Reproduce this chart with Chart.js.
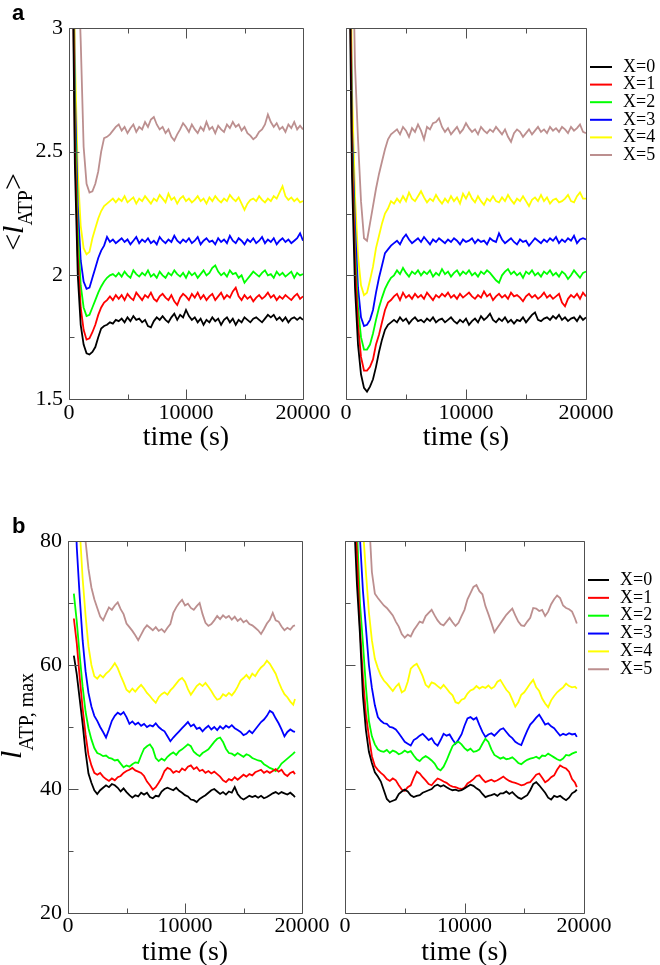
<!doctype html>
<html>

<head>
	<title>ATP length vs time</title>
	<script src="https://cdn.jsdelivr.net/npm/chart.js@4.4.0/dist/chart.umd.min.js"></script>
	<style>
		body { margin: 0; background: #fff; }
		#page { position: relative; width: 660px; height: 965px; }
		.panel { position: absolute; }
		canvas { display: block; }
	</style>
</head>

<body>
	<div id="page">
		<div class="panel" style="left:0;top:0"><canvas id="cTL" width="330" height="482"></canvas></div>
		<div class="panel" style="left:330px;top:0"><canvas id="cTR" width="330" height="482"></canvas></div>
		<div class="panel" style="left:0;top:482px"><canvas id="cBL" width="330" height="483"></canvas></div>
		<div class="panel" style="left:330px;top:482px"><canvas id="cBR" width="330" height="483"></canvas></div>
	</div>
	<script>
		var seriesNames = ['X=0', 'X=1', 'X=2', 'X=3', 'X=4', 'X=5'];
		var seriesColors = ['#000000', '#ff0000', '#00ff00', '#0000ff', '#ffff00', '#bc8f8f'];

		var xTitle = 'time (s)';
		var xTicks = [0, 10000, 20000];
		var xMinor = [5000, 15000];
		var yTicksA = [1.5, 2, 2.5, 3];
		var yMinorA = [1.75, 2.25, 2.75];
		var yTicksB = [20, 40, 60, 80];
		var yMinorB = [30, 50, 70];

		// time grid (s) for panel a
		var timeTop = [0, 250, 500, 750, 1000, 1250, 1500, 1750, 2000, 2250, 2500, 2750, 3000, 3250, 3500, 3750, 4000,
			4250, 4500, 4750, 5000, 5250, 5500, 5750, 6000,
			6250, 6500, 6750, 7000, 7250, 7500, 7750, 8000,
			8250, 8500, 8750, 9000, 9250, 9500, 9750, 10000,
			10250, 10500, 10750, 11000, 11250, 11500, 11750, 12000,
			12250, 12500, 12750, 13000, 13250, 13500, 13750, 14000,
			14250, 14500, 14750, 15000, 15250, 15500, 15750, 16000,
			16250, 16500, 16750, 17000, 17250, 17500, 17750, 18000,
			18250, 18500, 18750, 19000, 19250, 19500, 19750, 20000];

		// time grid (s) for panel b
		var timeBottom = [500, 750, 1000, 1250, 1500, 1750, 2000, 2250,
			2500, 2750, 3000, 3250, 3500, 3750, 4000, 4250,
			4500, 4750, 5000, 5250, 5500, 5750, 6000, 6250,
			6500, 6750, 7000, 7250, 7500, 7750, 8000, 8250,
			8500, 8750, 9000, 9250, 9500, 9750, 10000, 10250,
			10500, 10750, 11000, 11250, 11500, 11750, 12000, 12250,
			12500, 12750, 13000, 13250, 13500, 13750, 14000, 14250,
			14500, 14750, 15000, 15250, 15500, 15750, 16000, 16250,
			16500, 16750, 17000, 17250, 17500, 17750, 18000, 18250,
			18500, 18750, 19000, 19250, 19400];

		// panel a, left: <l_ATP>
		var aLeftX0 = [6, 3.5, 2.45, 2.0, 1.80, 1.72, 1.685, 1.68, 1.69, 1.71, 1.75, 1.785, 1.795, 1.80, 1.81, 1.805, 1.82,
			1.815, 1.825, 1.81, 1.83, 1.815, 1.835, 1.82, 1.825,
			1.81, 1.82, 1.795, 1.79, 1.815, 1.83, 1.82, 1.835,
			1.82, 1.81, 1.83, 1.845, 1.82, 1.84, 1.83, 1.86,
			1.835, 1.82, 1.83, 1.81, 1.825, 1.80, 1.82, 1.81,
			1.83, 1.815, 1.825, 1.80, 1.82, 1.83, 1.81, 1.825,
			1.80, 1.82, 1.81, 1.83, 1.82, 1.81, 1.825, 1.83,
			1.82, 1.81, 1.825, 1.84, 1.83, 1.84, 1.82, 1.83,
			1.815, 1.83, 1.81, 1.825, 1.83, 1.82, 1.83, 1.82];
		var aLeftX1 = [6, 3.6, 2.55, 2.08, 1.87, 1.78, 1.74, 1.745, 1.77, 1.80, 1.84, 1.87, 1.89, 1.90, 1.915, 1.90, 1.92,
			1.905, 1.92, 1.90, 1.925, 1.91, 1.90, 1.93, 1.915,
			1.90, 1.92, 1.91, 1.93, 1.905, 1.895, 1.915, 1.925,
			1.91, 1.90, 1.92, 1.895, 1.88, 1.91, 1.925, 1.915,
			1.90, 1.925, 1.91, 1.93, 1.905, 1.92, 1.90, 1.915,
			1.925, 1.90, 1.915, 1.93, 1.905, 1.92, 1.91, 1.935,
			1.95, 1.915, 1.90, 1.92, 1.905, 1.915, 1.895, 1.91,
			1.92, 1.905, 1.915, 1.93, 1.91, 1.92, 1.90, 1.915,
			1.905, 1.92, 1.91, 1.90, 1.915, 1.925, 1.905, 1.915];
		var aLeftX2 = [6, 3.7, 2.65, 2.18, 1.96, 1.87, 1.835, 1.84, 1.87, 1.90, 1.93, 1.955, 1.975, 1.99, 2.0, 2.005, 1.995,
			2.01, 1.995, 2.015, 2.0, 1.99, 2.02, 2.005, 1.995,
			2.01, 2.0, 2.02, 1.995, 2.005, 1.99, 2.015, 2.0,
			1.99, 2.01, 2.0, 2.02, 2.005, 1.995, 2.01, 1.99,
			2.015, 2.0, 2.01, 1.99, 2.005, 2.02, 2.0, 2.01,
			2.03, 2.04, 2.015, 2.0, 2.01, 1.995, 2.02, 2.005,
			2.01, 1.99, 2.0, 1.97, 1.985, 2.0, 2.015, 2.005,
			1.995, 2.01, 2.02, 2.0, 2.005, 1.99, 2.015, 2.0,
			2.01, 1.995, 2.005, 2.015, 1.99, 2.01, 2.0, 2.005];
		var aLeftX3 = [6, 3.8, 2.75, 2.28, 2.06, 1.975, 1.945, 1.95, 1.99, 2.03, 2.07, 2.10, 2.12, 2.155, 2.135, 2.145, 2.13,
			2.14, 2.15, 2.135, 2.145, 2.125, 2.14, 2.155, 2.13,
			2.145, 2.135, 2.15, 2.13, 2.14, 2.125, 2.155, 2.14,
			2.13, 2.145, 2.135, 2.16, 2.14, 2.13, 2.145, 2.135,
			2.15, 2.13, 2.14, 2.155, 2.125, 2.14, 2.15, 2.135,
			2.14, 2.125, 2.15, 2.135, 2.145, 2.13, 2.16, 2.14,
			2.13, 2.15, 2.14, 2.125, 2.145, 2.135, 2.15, 2.13,
			2.14, 2.155, 2.13, 2.145, 2.135, 2.15, 2.125, 2.14,
			2.15, 2.135, 2.145, 2.13, 2.14, 2.15, 2.17, 2.14];
		var aLeftX4 = [6, 4.0, 2.9, 2.42, 2.2, 2.11, 2.085, 2.095, 2.15, 2.19, 2.23, 2.26, 2.28, 2.29, 2.30, 2.31, 2.295,
			2.31, 2.30, 2.32, 2.295, 2.305, 2.315, 2.29, 2.31,
			2.30, 2.32, 2.305, 2.29, 2.31, 2.30, 2.325, 2.31,
			2.295, 2.33, 2.305, 2.315, 2.29, 2.31, 2.32, 2.30,
			2.31, 2.295, 2.305, 2.32, 2.30, 2.31, 2.29, 2.315,
			2.30, 2.32, 2.305, 2.295, 2.31, 2.30, 2.325, 2.31,
			2.30, 2.315, 2.29, 2.265, 2.29, 2.305, 2.31, 2.30,
			2.32, 2.305, 2.295, 2.31, 2.30, 2.32, 2.31, 2.335,
			2.36, 2.32, 2.305, 2.315, 2.30, 2.31, 2.295, 2.30];
		var aLeftX5 = [8, 5.5, 4.0, 3.3, 2.95, 2.52, 2.37, 2.335, 2.34, 2.37, 2.42, 2.50, 2.555, 2.56, 2.57, 2.585, 2.60,
			2.61, 2.585, 2.60, 2.575, 2.595, 2.61, 2.58, 2.60,
			2.59, 2.62, 2.60, 2.63, 2.64, 2.61, 2.59, 2.60,
			2.575, 2.59, 2.56, 2.545, 2.57, 2.59, 2.615, 2.60,
			2.58, 2.61, 2.59, 2.575, 2.60, 2.585, 2.62, 2.59,
			2.60, 2.575, 2.605, 2.59, 2.58, 2.61, 2.595, 2.62,
			2.60, 2.61, 2.585, 2.60, 2.575, 2.565, 2.55, 2.56,
			2.58, 2.59, 2.61, 2.65, 2.62, 2.60, 2.615, 2.59,
			2.60, 2.58, 2.61, 2.595, 2.62, 2.59, 2.605, 2.59];

		// panel a, right
		var aRightX0 = [6, 3.4, 2.4, 1.95, 1.72, 1.60, 1.545, 1.53, 1.55, 1.58, 1.63, 1.69, 1.74, 1.78, 1.80, 1.81, 1.82,
			1.81, 1.83, 1.815, 1.825, 1.805, 1.82, 1.83, 1.815,
			1.82, 1.81, 1.825, 1.815, 1.83, 1.81, 1.82, 1.825,
			1.81, 1.82, 1.83, 1.815, 1.805, 1.82, 1.81, 1.825,
			1.80, 1.815, 1.825, 1.81, 1.835, 1.82, 1.83, 1.845,
			1.82, 1.81, 1.825, 1.815, 1.83, 1.81, 1.82, 1.805,
			1.82, 1.815, 1.83, 1.81, 1.825, 1.84, 1.85, 1.82,
			1.815, 1.825, 1.83, 1.82, 1.835, 1.825, 1.84, 1.82,
			1.83, 1.815, 1.825, 1.83, 1.815, 1.835, 1.82, 1.83];
		var aRightX1 = [6, 3.6, 2.5, 2.05, 1.80, 1.67, 1.615, 1.615, 1.63, 1.66, 1.72, 1.76, 1.81, 1.86, 1.89, 1.90, 1.915,
			1.925, 1.90, 1.93, 1.91, 1.92, 1.905, 1.925, 1.91,
			1.92, 1.905, 1.93, 1.915, 1.90, 1.92, 1.91, 1.925,
			1.915, 1.93, 1.91, 1.92, 1.905, 1.925, 1.91, 1.92,
			1.93, 1.915, 1.905, 1.92, 1.91, 1.935, 1.915, 1.925,
			1.90, 1.915, 1.925, 1.91, 1.92, 1.905, 1.93, 1.915,
			1.92, 1.91, 1.895, 1.915, 1.925, 1.91, 1.92, 1.905,
			1.915, 1.93, 1.91, 1.92, 1.905, 1.915, 1.925, 1.89,
			1.875, 1.905, 1.92, 1.91, 1.925, 1.905, 1.93, 1.915];
		var aRightX2 = [6, 3.7, 2.55, 2.10, 1.87, 1.75, 1.70, 1.70, 1.72, 1.765, 1.82, 1.87, 1.91, 1.945, 1.97, 1.99, 2.0,
			2.02, 2.005, 2.03, 2.01, 1.995, 2.015, 2.005, 2.02,
			2.0, 2.015, 2.005, 2.02, 1.995, 2.01, 2.0, 2.025,
			2.005, 2.015, 1.995, 2.01, 2.02, 2.0, 2.015, 2.005,
			2.02, 2.0, 2.01, 1.995, 2.015, 2.005, 2.02, 2.01,
			1.995, 1.98, 1.97, 2.0, 2.015, 2.025, 2.005, 2.015,
			2.0, 2.01, 1.99, 2.015, 2.005, 2.02, 2.0, 2.01,
			1.995, 2.015, 2.005, 2.02, 2.0, 2.01, 1.995, 2.015,
			2.005, 1.985, 2.0, 2.02, 2.005, 1.99, 2.01, 2.015];
		var aRightX3 = [6, 3.8, 2.6, 2.2, 1.95, 1.83, 1.795, 1.80, 1.82, 1.86, 1.93, 1.99, 2.04, 2.09, 2.105, 2.12, 2.13,
			2.14, 2.125, 2.15, 2.165, 2.145, 2.13, 2.14, 2.15,
			2.135, 2.155, 2.14, 2.125, 2.145, 2.135, 2.15, 2.14,
			2.13, 2.145, 2.135, 2.15, 2.14, 2.125, 2.145, 2.135,
			2.14, 2.15, 2.13, 2.145, 2.135, 2.14, 2.125, 2.15,
			2.14, 2.135, 2.17, 2.145, 2.13, 2.14, 2.15, 2.135,
			2.125, 2.145, 2.135, 2.14, 2.12, 2.135, 2.15, 2.14,
			2.13, 2.145, 2.135, 2.15, 2.14, 2.155, 2.13, 2.145,
			2.135, 2.15, 2.14, 2.16, 2.13, 2.145, 2.15, 2.145];
		var aRightX4 = [6, 4.0, 2.75, 2.32, 2.08, 1.96, 1.92, 1.93, 1.98, 2.035, 2.11, 2.16, 2.21, 2.25, 2.27, 2.30, 2.29,
			2.31, 2.295, 2.32, 2.30, 2.335, 2.31, 2.30, 2.32,
			2.34, 2.315, 2.295, 2.31, 2.30, 2.325, 2.305, 2.29,
			2.31, 2.295, 2.32, 2.30, 2.315, 2.29, 2.33, 2.31,
			2.335, 2.31, 2.295, 2.32, 2.30, 2.285, 2.31, 2.30,
			2.32, 2.30, 2.295, 2.315, 2.30, 2.325, 2.305, 2.29,
			2.31, 2.30, 2.32, 2.30, 2.28, 2.305, 2.315, 2.30,
			2.325, 2.30, 2.315, 2.29, 2.305, 2.31, 2.295, 2.30,
			2.31, 2.325, 2.30, 2.295, 2.32, 2.335, 2.31, 2.31];
		var aRightX5 = [8, 5, 3.5, 2.85, 2.55, 2.30, 2.15, 2.14, 2.21, 2.28, 2.35, 2.41, 2.46, 2.51, 2.55, 2.57, 2.58,
			2.59, 2.57, 2.60, 2.585, 2.56, 2.595, 2.58, 2.61,
			2.585, 2.55, 2.60, 2.59, 2.615, 2.62, 2.635, 2.60,
			2.58, 2.595, 2.57, 2.585, 2.60, 2.575, 2.59, 2.615,
			2.595, 2.58, 2.59, 2.57, 2.60, 2.585, 2.575, 2.59,
			2.58, 2.60, 2.585, 2.57, 2.59, 2.56, 2.54, 2.575,
			2.59, 2.58, 2.56, 2.575, 2.59, 2.57, 2.585, 2.60,
			2.58, 2.59, 2.575, 2.60, 2.585, 2.595, 2.58, 2.60,
			2.59, 2.575, 2.60, 2.585, 2.595, 2.61, 2.58, 2.575];

		// panel b, left: l_ATP,max
		var bLeftX0 = [61.5, 58.5, 54.5, 50.5, 46, 42.5, 41, 39.8,
			39.2, 39.8, 40.2, 40.6, 40.3, 40.8, 40.6, 40.2,
			39.6, 40.1, 39.5, 39.0, 38.6, 39.0, 38.8, 39.4,
			39.1, 39.4, 38.7, 38.5, 38.9, 38.8, 39.6, 40.0,
			40.2, 40.0, 39.8, 40.2, 39.7, 39.4, 39.0, 38.8,
			38.3, 38.2, 37.9, 38.4, 38.7, 39.0, 39.4, 39.8,
			40.0, 39.6, 39.2, 39.5, 39.1, 39.6, 39.4, 40.3,
			39.2, 38.6, 38.3, 38.6, 38.9, 38.7, 38.9, 38.6,
			38.9, 38.5, 38.7, 39.0, 39.3, 39.5, 39.2, 39.5,
			39.3, 39.1, 39.4, 39.0, 38.7];
		var bLeftX1 = [67.5, 63.5, 58, 53, 48.8, 45.5, 43.8, 42.6,
			42.3, 42.6, 42.0, 41.6, 41.3, 41.7, 41.4, 41.9,
			42.1, 42.6, 42.9, 43.1, 43.4, 43.0, 42.8, 42.6,
			42.1, 41.2, 40.6, 39.9, 40.3, 41.0, 41.8, 42.9,
			43.4, 43.2, 42.6, 42.9, 42.7, 43.3, 43.0, 43.6,
			43.8, 43.2, 43.5, 42.9, 43.1, 42.6, 42.9, 42.5,
			42.8, 42.4, 42.0, 41.4, 41.1, 41.6, 41.4, 41.9,
			41.5, 41.9, 42.3, 42.0, 42.4, 42.2, 42.7, 42.9,
			43.1, 42.6, 42.9, 42.6, 42.9, 43.2, 42.8, 43.1,
			42.4, 42.1, 42.6, 42.8, 42.4];
		var bLeftX2 = [71.5, 67, 61.5, 56.5, 52.5, 49.8, 48, 46.6,
			45.8, 45.6, 45.3, 45.4, 45.0, 44.9, 44.6, 44.7,
			44.1, 43.5, 43.8, 43.6, 44.0, 44.3, 44.2, 45.4,
			46.5, 46.9, 47.2, 46.5, 45.0, 44.5, 44.9, 44.6,
			45.2, 45.6, 45.9, 45.5, 46.1, 46.4, 46.8, 47.2,
			46.9, 46.0, 45.6, 45.3, 45.8, 46.1, 46.4, 47.0,
			47.6, 48.1, 48.3, 47.6, 46.5, 45.8, 45.7, 45.4,
			45.8, 45.5, 45.2, 45.6, 45.4, 45.0, 44.8, 44.6,
			44.5, 44.0, 43.7, 43.4, 43.2, 42.9, 43.4, 44.1,
			44.5, 44.9, 45.3, 45.7, 46.0];
		var bLeftX3 = [92, 79, 71, 64, 59, 55.5, 53.3, 51.8,
			51.0, 50.0, 49.2, 48.3, 49.6, 51.0, 51.8, 52.3,
			52.0, 52.4, 51.6, 50.5, 50.9, 50.4, 50.7, 50.2,
			50.5, 50.0, 50.3, 50.1, 50.6, 50.0, 49.6, 49.3,
			48.5, 47.7, 48.3, 48.8, 49.3, 49.8, 50.3, 50.8,
			50.1, 50.4, 49.7, 49.9, 49.3, 49.8, 50.2, 49.6,
			50.0, 49.5, 50.1, 49.7, 50.2, 49.9, 50.3, 49.8,
			49.5, 49.2, 48.7, 48.9, 49.4, 49.0, 49.6, 50.2,
			50.8, 51.2, 51.8, 52.6, 52.3, 51.4, 50.6, 49.6,
			48.5, 49.2, 49.6, 49.3, 49.2];
		var bLeftX4 = [110, 95, 82, 74, 68, 63, 60, 58.2,
			57.8, 58.4, 58.0, 58.6, 59.0, 59.6, 60.3, 59.5,
			58.3, 57.2, 56.0, 55.6, 56.2, 55.7, 56.3, 56.8,
			56.2, 55.5, 55.0, 54.4, 53.9, 54.8, 55.3, 55.6,
			55.2, 55.9, 56.4, 57.0, 57.6, 57.9, 57.3, 56.1,
			55.2, 55.9, 56.6, 57.0, 56.6, 57.1, 56.5, 55.8,
			55.0, 54.4, 54.6, 55.3, 55.0, 55.5, 55.1, 55.7,
			56.5, 57.5, 57.9, 58.4, 57.8, 58.6, 58.2, 59.0,
			59.6, 60.0, 60.7, 60.2, 59.4, 58.6, 57.3, 56.2,
			55.3, 54.8, 54.1, 53.6, 54.5];
		var bLeftX5 = [140, 120, 102, 88, 80, 75.5, 72.5, 70.6,
			69.2, 67.8, 67.2, 68.3, 69.3, 68.9, 69.6, 70.1,
			69.0, 68.2, 66.7, 66.1, 65.5, 64.8, 64.0, 64.9,
			65.8, 66.4, 66.0, 65.6, 66.1, 65.5, 65.8, 65.3,
			66.0, 66.6, 68.4, 69.3, 70.0, 70.5, 69.6, 69.9,
			69.2, 68.9, 69.5, 70.0, 68.2, 66.8, 66.3, 66.6,
			67.2, 67.9, 67.4, 68.0, 67.6, 67.9, 67.3, 67.8,
			67.1, 67.5, 66.9, 67.2, 66.6, 66.4, 66.0, 65.6,
			65.0, 65.8, 66.7, 67.3, 68.4, 67.2, 67.0, 66.2,
			65.6, 66.0, 65.7, 66.3, 66.4];

		// panel b, right
		var bRightX0 = [95, 84, 73, 65, 55, 49.5, 46, 44.2,
			42.7, 42.0, 41.2, 39.8, 38.4, 37.9, 38.1, 38.3,
			39.2, 39.6, 39.9, 39.6, 39.0, 38.7, 38.9, 39.0,
			39.4, 39.6, 39.8, 40.0, 40.5, 40.7, 40.4, 40.6,
			40.3, 40.0, 39.8, 39.9, 39.7, 39.8, 40.1, 40.4,
			40.7, 40.5, 40.1, 39.8, 39.2, 38.7, 38.9, 39.0,
			39.2, 38.9, 39.3, 39.3, 39.6, 39.2, 39.5, 39.0,
			38.6, 38.4, 38.7, 39.0, 39.8, 40.8, 41.1, 40.6,
			40.0, 39.4, 38.6, 38.3, 38.9, 38.7, 38.9, 38.5,
			38.2, 38.6, 39.3, 39.6, 39.9];
		var bRightX1 = [98, 88, 78, 66, 58, 52, 48.5, 45.3,
			43.7, 43.1, 42.6, 42.2, 41.6, 41.3, 41.7, 41.4,
			40.6, 39.9, 39.7, 40.3, 40.6, 41.8, 42.8, 42.5,
			41.9, 41.4, 40.8, 40.6, 41.2, 41.7, 41.5, 41.2,
			41.0, 40.6, 40.4, 40.3, 40.1, 40.0, 40.2, 40.9,
			41.2, 41.6, 42.1, 42.2, 41.6, 41.1, 41.3, 41.5,
			41.2, 41.4, 41.7, 42.0, 41.6, 41.3, 41.1, 41.0,
			40.8, 40.6, 40.7, 41.0, 41.1, 41.7, 42.3, 42.5,
			41.8, 41.1, 41.4, 41.9, 42.2, 43.1, 43.8, 43.5,
			43.3, 42.8, 41.6, 41.0, 40.3];
		var bRightX2 = [104, 92, 82, 70, 63.5, 56.5, 51, 48.5,
			47.2, 46.4, 46.1, 46.0, 46.3, 45.8, 46.2, 46.0,
			45.6, 45.8, 46.2, 45.9, 46.1, 45.4, 44.8, 44.5,
			45.0, 45.3, 45.0, 44.6, 44.1, 43.3, 43.0, 43.6,
			44.6, 45.8, 46.9, 47.4, 47.6, 47.2, 46.6, 46.2,
			46.5, 46.0, 46.1, 46.4, 47.3, 48.1, 47.6, 46.4,
			45.5, 45.2, 44.9, 45.1, 44.8, 44.9, 45.1, 44.7,
			44.2, 44.0, 44.4, 44.7, 44.9, 45.0, 45.2, 44.9,
			45.4, 45.3, 45.7, 45.4, 45.1, 44.8, 44.6, 44.9,
			45.5, 45.4, 45.7, 45.9, 46.0];
		var bRightX3 = [112, 100, 90, 80.5, 72, 66, 60, 56.3,
			53.5, 51.6, 51.0, 50.6, 50.5, 50.0, 49.9, 49.6,
			49.0, 48.3, 47.6, 47.3, 47.0, 47.9, 48.2, 48.6,
			48.9, 48.4, 47.9, 48.2, 47.4, 47.0, 47.9, 48.9,
			48.6, 48.8, 48.0, 47.3, 48.0, 48.8, 50.2, 51.4,
			51.6, 51.2, 51.5, 50.3, 49.2, 48.4, 48.8, 49.0,
			48.6, 49.1, 49.6, 49.8, 49.2, 48.6, 48.2, 47.6,
			47.3, 47.1, 48.3, 49.4, 50.4, 50.9, 51.5, 52.0,
			51.2, 50.4, 50.6, 50.1, 49.8, 49.2, 48.6, 48.9,
			48.7, 49.0, 48.8, 48.9, 48.4];
		var bRightX4 = [125, 113, 102, 91, 82, 75, 68.5, 64,
			61, 59.5, 58.3, 57.5, 57.0, 56.4, 55.8, 56.5,
			57.0, 55.6, 55.9, 57.3, 59.4, 59.9, 60.2, 59.3,
			58.2, 56.8, 56.4, 57.2, 57.0, 56.6, 56.2, 56.8,
			56.2, 55.6, 55.1, 54.0, 53.8, 54.4, 54.6, 55.4,
			55.9, 56.1, 56.6, 56.2, 56.5, 56.3, 56.7, 56.2,
			56.5, 57.3, 57.6, 56.8, 56.0, 55.5, 54.4, 53.3,
			54.0, 55.2, 55.6, 56.3, 57.0, 57.6, 56.4, 55.8,
			54.6, 53.8, 53.2, 54.3, 55.0, 55.6, 56.0, 56.4,
			57.0, 56.6, 56.4, 56.5, 56.2];
		var bRightX5 = [150, 138, 126, 114, 104, 94, 84, 75,
			71.5, 70.8, 70.2, 69.6, 69.2, 68.6, 68.0, 67.0,
			66.2, 65.0, 64.4, 64.9, 64.6, 65.6, 66.3, 67.0,
			66.8, 67.9, 68.4, 68.9, 68.0, 67.2, 66.6, 66.4,
			67.0, 67.6, 66.9, 66.3, 66.8, 67.9, 68.9, 70.6,
			71.6, 72.6, 72.9, 71.9, 71.4, 69.5, 68.2, 66.8,
			65.3, 66.0, 66.7, 67.4, 68.1, 68.6, 69.1, 68.0,
			67.0, 66.4, 66.3, 67.0, 67.6, 69.2, 69.1, 68.7,
			68.9, 67.9, 68.6, 69.8, 70.6, 71.2, 70.8, 69.6,
			69.2, 69.0, 68.6, 67.5, 66.7];

		var serif = "'Liberation Serif', 'Times New Roman', serif";
		var sans = "'Liberation Sans', Arial, sans-serif";

		// box, inward ticks, legend, y title and panel letter
		var frame = {
			id: 'frame',
			afterDraw: function(chart, args, o) {
				var ctx = chart.ctx;
				var a = chart.chartArea;
				var xs = chart.scales.x;
				var ys = chart.scales.y;
				var L = Math.round(a.left) + 0.5, R = Math.round(a.right) + 0.5;
				var T = Math.round(a.top) + 0.5, B = Math.round(a.bottom) + 0.5;
				ctx.save();
				ctx.strokeStyle = '#505050';
				ctx.lineWidth = 1;
				ctx.beginPath();
				ctx.rect(L, T, R - L, B - T);
				var xt = function(list, len) {
					list.forEach(function(v) {
						var px = Math.round(xs.getPixelForValue(v)) + 0.5;
						ctx.moveTo(px, B); ctx.lineTo(px, B - len);
						ctx.moveTo(px, T); ctx.lineTo(px, T + len);
					});
				};
				var yt = function(list, len) {
					list.forEach(function(v) {
						var py = Math.round(ys.getPixelForValue(v)) + 0.5;
						ctx.moveTo(L, py); ctx.lineTo(L + len, py);
					});
				};
				xt(xTicks, 10);
				xt(xMinor, 5);
				yt(o.yMajor, 10);
				yt(o.yMinor, 5);
				ctx.stroke();

				if (o.legend) {
					var lg = o.legend;
					ctx.font = '18px ' + serif;
					ctx.textBaseline = 'middle';
					ctx.textAlign = 'left';
					chart.data.datasets.forEach(function(ds, i) {
						var y = lg.y + i * lg.gap;
						ctx.strokeStyle = ds.borderColor;
						ctx.lineWidth = 2;
						ctx.beginPath();
						ctx.moveTo(lg.x0, y);
						ctx.lineTo(lg.x1, y);
						ctx.stroke();
						ctx.fillStyle = '#000';
						ctx.fillText(ds.label, lg.tx, y);
					});
				}

				if (o.yTitle) {
					var yt2 = o.yTitle;
					ctx.save();
					ctx.translate(yt2.x, yt2.y);
					ctx.rotate(-Math.PI / 2);
					ctx.textBaseline = 'alphabetic';
					ctx.textAlign = 'left';
					ctx.fillStyle = '#000';
					var total = 0;
					yt2.parts.forEach(function(p) {
						ctx.font = p.font;
						total += ctx.measureText(p.text).width;
					});
					var cx = -total / 2;
					yt2.parts.forEach(function(p) {
						ctx.font = p.font;
						ctx.fillText(p.text, cx, p.dy);
						cx += ctx.measureText(p.text).width;
					});
					ctx.restore();
				}

				if (o.letter) {
					ctx.font = 'bold 22px ' + sans;
					ctx.fillStyle = '#000';
					ctx.textBaseline = 'alphabetic';
					ctx.textAlign = 'left';
					ctx.fillText(o.letter.text, o.letter.x, o.letter.y);
				}
				ctx.restore();
			}
		};

		function buildSets(times, list) {
			return list.map(function(vals, i) {
				return {
					label: seriesNames[i],
					data: vals.map(function(v, k) {
						return { x: times[k], y: v };
					}),
					borderColor: seriesColors[i],
					borderWidth: 1.8,
					pointRadius: 0,
					fill: false,
					tension: 0
				};
			});
		}

		function makeChart(id, c) {
			return new Chart(document.getElementById(id), {
				type: 'line',
				data: { datasets: buildSets(c.times, c.series) },
				options: {
					responsive: false,
					animation: false,
					events: [],
					layout: { padding: c.pad },
					plugins: {
						legend: { display: false },
						tooltip: { enabled: false },
						frame: c.frame
					},
					scales: {
						x: {
							type: 'linear',
							min: 0,
							max: 20000,
							grid: { display: false, drawTicks: false },
							border: { display: false },
							afterBuildTicks: function(s) {
								s.ticks = xTicks.map(function(v) { return { value: v }; });
							},
							afterFit: function(s) {
								s.height = c.xH;
								s.paddingLeft = 0;
								s.paddingRight = 0;
							},
							ticks: {
								padding: c.xPad,
								color: '#000',
								font: { family: serif, size: 22 },
								maxRotation: 0,
								minRotation: 0,
								autoSkip: false,
								callback: function(v) { return String(v); }
							},
							title: {
								display: true,
								text: xTitle,
								color: '#000',
								font: { family: serif, size: 28, lineHeight: 1 },
								padding: { top: 0, bottom: c.titlePad }
							}
						},
						y: {
							type: 'linear',
							min: c.yTicks[0],
							max: c.yTicks[c.yTicks.length - 1],
							grid: { display: false, drawTicks: false },
							border: { display: false },
							afterBuildTicks: function(s) {
								s.ticks = c.yTicks.map(function(v) { return { value: v }; });
							},
							afterFit: function(s) {
								s.width = c.yW;
								s.paddingTop = 0;
								s.paddingBottom = 0;
							},
							ticks: {
								display: c.yLabels,
								padding: 6,
								color: '#000',
								font: { family: serif, size: 22 },
								autoSkip: false,
								callback: function(v) { return String(v); }
							}
						}
					}
				},
				plugins: [frame]
			});
		}

		var legendA = { y: 67, gap: 17.6, x0: 260, x1: 282, tx: 293 };
		var legendB = { y: 98, gap: 17.85, x0: 258, x1: 279, tx: 290 };

		makeChart('cTL', {
			times: timeTop,
			series: [aLeftX0, aLeftX1, aLeftX2, aLeftX3, aLeftX4, aLeftX5],
			pad: { left: 0, top: 28, right: 27, bottom: 0 },
			xH: 83, yW: 69, xPad: 1, titlePad: 30, yTicks: yTicksA, yLabels: true,
			frame: {
				yMajor: yTicksA, yMinor: yMinorA,
				letter: { text: 'a', x: 12, y: 20 },
				yTitle: {
					x: 23, y: 212,
					parts: [
						{ text: '<', font: '30px ' + serif, dy: 0 },
						{ text: 'l', font: 'italic 30px ' + serif, dy: 0 },
						{ text: 'ATP', font: '20px ' + serif, dy: 9 },
						{ text: '>', font: '30px ' + serif, dy: 0 }
					]
				}
			}
		});

		makeChart('cTR', {
			times: timeTop,
			series: [aRightX0, aRightX1, aRightX2, aRightX3, aRightX4, aRightX5],
			pad: { left: 0, top: 28, right: 74, bottom: 0 },
			xH: 83, yW: 16, xPad: 1, titlePad: 30, yTicks: yTicksA, yLabels: false,
			frame: { yMajor: yTicksA, yMinor: yMinorA, legend: legendA }
		});

		makeChart('cBL', {
			times: timeBottom,
			series: [bLeftX0, bLeftX1, bLeftX2, bLeftX3, bLeftX4, bLeftX5],
			pad: { left: 0, top: 59, right: 28, bottom: 0 },
			xH: 52, yW: 68, xPad: 0, titlePad: -2, yTicks: yTicksB, yLabels: true,
			frame: {
				yMajor: yTicksB, yMinor: yMinorB,
				letter: { text: 'b', x: 12, y: 51 },
				yTitle: {
					x: 21, y: 234,
					parts: [
						{ text: 'l', font: 'italic 30px ' + serif, dy: 0 },
						{ text: 'ATP, max', font: '20px ' + serif, dy: 12 }
					]
				}
			}
		});

		makeChart('cBR', {
			times: timeBottom,
			series: [bRightX0, bRightX1, bRightX2, bRightX3, bRightX4, bRightX5],
			pad: { left: 0, top: 59, right: 76, bottom: 0 },
			xH: 52, yW: 15, xPad: 0, titlePad: -2, yTicks: yTicksB, yLabels: false,
			frame: { yMajor: yTicksB, yMinor: yMinorB, legend: legendB }
		});
	</script>
</body>

</html>
